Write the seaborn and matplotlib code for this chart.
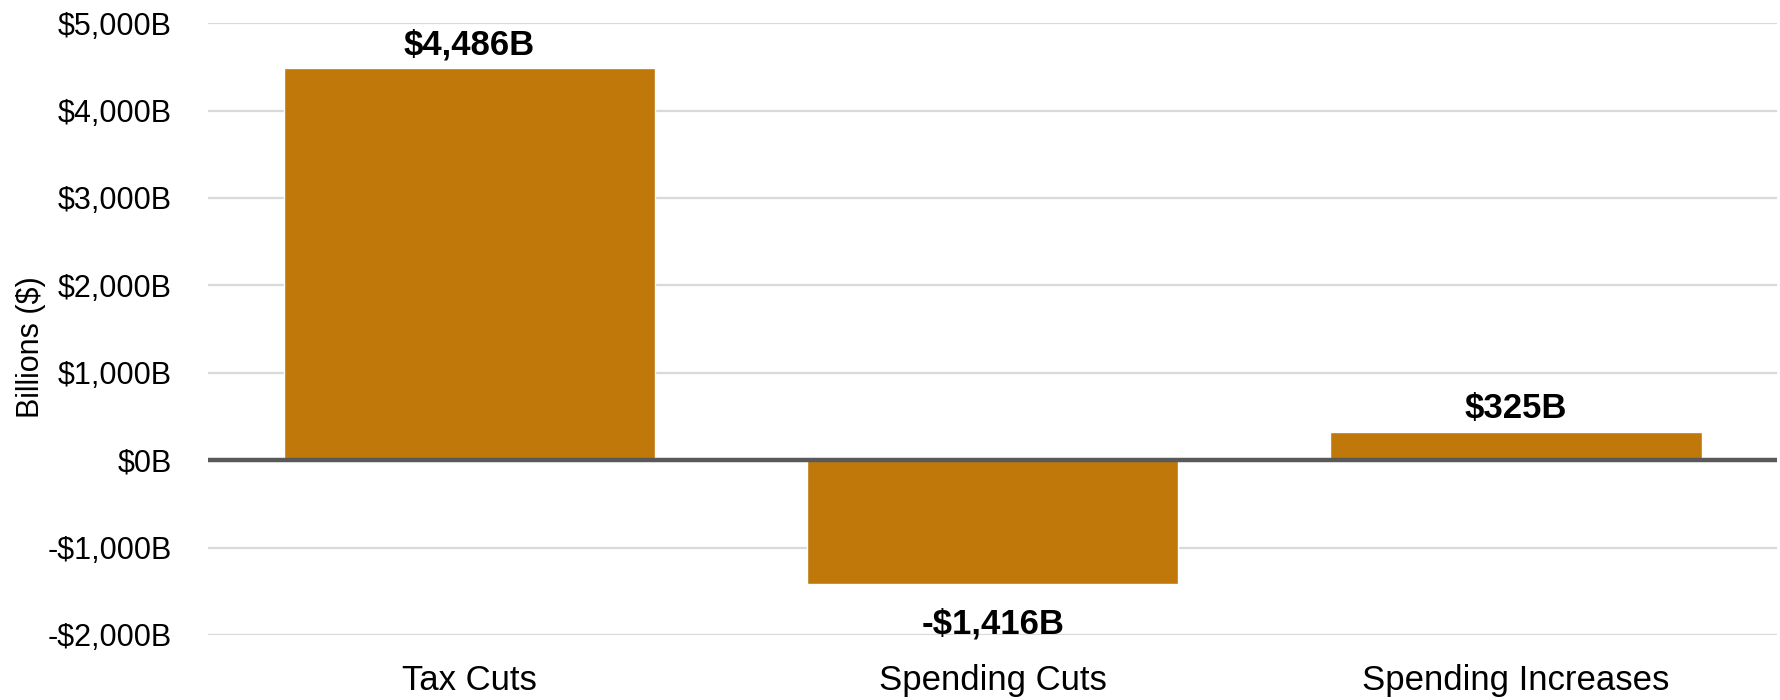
import matplotlib
matplotlib.use("Agg")
import matplotlib.pyplot as plt
from matplotlib.ticker import FuncFormatter, MultipleLocator
import seaborn as sns
import pandas as pd

categories = ["Tax Cuts", "Spending Cuts", "Spending Increases"]
values = [4486, -1416, 325]
value_labels = ["$4,486B", "-$1,416B", "$325B"]

sns.set_theme(style="white")
plt.rcParams["font.family"] = ["Liberation Sans", "DejaVu Sans"]

df = pd.DataFrame({"category": categories, "value": values})

fig = plt.figure(figsize=(17.81, 7.0), dpi=100)
ax = fig.add_axes([0.1168, 0.0929, 0.8812, 0.8741])

bar_color = "#C0780A"
sns.barplot(data=df, x="category", y="value", color=bar_color, width=0.71,
            saturation=1, ax=ax, zorder=2)

ax.set_ylim(-2000, 5000)
ax.set_xlim(-0.5, 2.5)
ax.yaxis.set_major_locator(MultipleLocator(1000))


def money(v, _pos):
    v = int(round(v))
    if v < 0:
        return f"-${abs(v):,}B"
    return f"${v:,}B"


ax.yaxis.set_major_formatter(FuncFormatter(money))
ax.grid(axis="y", color="#d9d9d9", linewidth=1.6, zorder=0)
ax.grid(axis="x", visible=False)
ax.set_axisbelow(True)
ax.axhline(0, color="#595959", linewidth=3.2, zorder=3)

for side in ["top", "right", "left", "bottom"]:
    ax.spines[side].set_visible(False)

ax.tick_params(axis="y", length=0, pad=26, labelsize=22, labelcolor="black")
ax.tick_params(axis="x", length=0, pad=21, labelsize=25, labelcolor="black")
ax.set_xlabel("")
ax.set_ylabel("Billions ($)", fontsize=22, color="black")
ax.yaxis.set_label_coords(-0.1035, 0.471)

for i, (v, lab) in enumerate(zip(values, value_labels)):
    offset = 5 if v >= 0 else -17
    va = "bottom" if v >= 0 else "top"
    ax.annotate(lab, xy=(i, v), xytext=(0, offset), textcoords="offset points",
                ha="center", va=va, fontsize=25, fontweight="bold", color="black")

fig.savefig("out.png", dpi=100)
